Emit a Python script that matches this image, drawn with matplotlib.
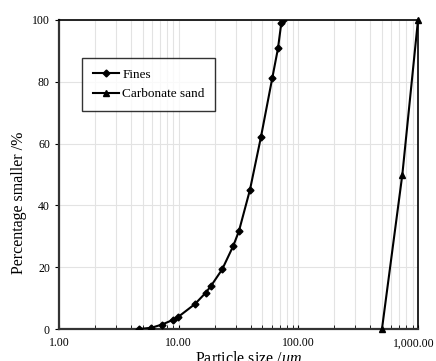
import matplotlib
matplotlib.use('Agg')
import matplotlib.pyplot as plt
from matplotlib.ticker import FuncFormatter, LogLocator, NullFormatter
from matplotlib.transforms import ScaledTranslation

plt.rcParams['font.family'] = ['Liberation Serif', 'DejaVu Serif']
plt.rcParams['mathtext.fontset'] = 'custom'
plt.rcParams['mathtext.rm'] = 'Liberation Serif'
plt.rcParams['mathtext.it'] = 'Liberation Serif:italic'

# particle size distribution data
fines_size = [4.7, 5.9, 7.2, 8.9, 9.9, 13.7, 16.8, 18.6, 23.1, 28.6, 31.9,
              39.4, 48.7, 60.5, 67.6, 72.0, 74.0]
fines_pct = [0.0, 0.4, 1.4, 2.9, 3.9, 8.1, 11.7, 13.9, 19.3, 26.9, 31.7,
             45.0, 62.1, 81.1, 90.8, 98.9, 100.0]

sand_size = [500, 740, 1000]
sand_pct = [0, 50, 100]

fig = plt.figure(figsize=(4.36, 3.61), dpi=100)
ax = fig.add_axes([0.1353, 0.0886, 0.8234, 0.856])

ax.plot(fines_size, fines_pct, color='black', lw=1.5, marker='D', ms=3.5,
        label='Fines', zorder=3)
ax.plot(sand_size, sand_pct, color='black', lw=1.5, marker='^', ms=5,
        label='Carbonate sand', zorder=3, clip_on=False)

ax.set_xscale('log')
ax.set_xlim(1, 1000)
ax.set_ylim(0, 100)
ax.set_yticks([0, 20, 40, 60, 80, 100])
ax.xaxis.set_major_locator(LogLocator(base=10))
ax.xaxis.set_minor_locator(LogLocator(base=10, subs=range(2, 10)))
ax.xaxis.set_minor_formatter(NullFormatter())
ax.xaxis.set_major_formatter(FuncFormatter(lambda v, p: '{:,.2f}'.format(v)))

ax.grid(True, which='both', axis='x', color='#e3e3e3', lw=0.8)
ax.grid(True, which='major', axis='y', color='#e3e3e3', lw=0.8)
ax.set_axisbelow(True)

ax.tick_params(axis='x', which='both', direction='in', length=3, labelsize=8.5, pad=6)
ax.tick_params(axis='y', direction='out', length=3, labelsize=8.5)

for s in ['top', 'right']:
    ax.spines[s].set_color('black')
    ax.spines[s].set_linewidth(1.2)
for s in ['left', 'bottom']:
    ax.spines[s].set_color('#333333')
    ax.spines[s].set_linewidth(1.6)

ax.set_xlabel('Particle size /$\\mathit{um}$', fontsize=11.5)
ax.set_ylabel('Percentage smaller /%', fontsize=11.5)
ax.xaxis.set_label_coords(0.527, -0.072)
ax.yaxis.set_label_coords(-0.09, 0.41)

leg = ax.legend(loc='upper left', bbox_to_anchor=(0.064, 0.877), borderaxespad=0,
                fontsize=9.5, frameon=True, fancybox=False, edgecolor='black',
                handlelength=2.0, borderpad=0.8, labelspacing=0.55,
                handletextpad=0.25)
leg.get_frame().set_linewidth(1.0)

# nudge the last tick label so it stays inside the figure
fig.canvas.draw()
for t in ax.xaxis.get_major_ticks():
    if abs(t.get_loc() - 1000) < 1e-6:
        t.label1.set_transform(t.label1.get_transform() +
                               ScaledTranslation(-3 / 72, 0, fig.dpi_scale_trans))

fig.savefig('out.png', dpi=100)
